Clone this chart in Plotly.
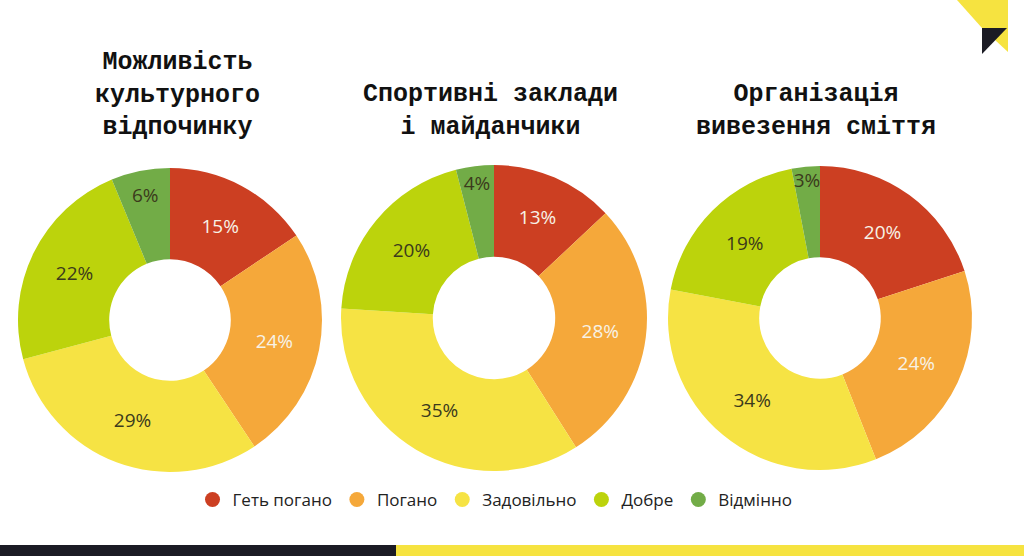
import plotly.graph_objects as go

categories = ["Геть погано", "Погано", "Задовільно", "Добре", "Відмінно"]
colors = ["#cc3f22", "#f5a83a", "#f6e344", "#bcd30c", "#72ac47"]
text_colors = ["#f7f2e6", "#f7f2e6", "#3b3a1c", "#3b3a1c", "#3b3a1c"]

titles = [
    ["Можливість", "культурного", "відпочинку"],
    ["Спортивні заклади", "і майданчики"],
    ["Організація", "вивезення сміття"],
]
values_culture = [15, 24, 29, 22, 6]
values_sport = [13, 28, 35, 20, 4]
values_waste = [20, 24, 34, 19, 3]
all_values = [values_culture, values_sport, values_waste]

W, H = 1024, 556
# pie geometry in pixels: (cx, cy, r)
geom = [(170, 320, 152), (494, 318, 153), (820, 318, 152)]
title_cx = [177, 490, 816]

fig = go.Figure()
for vals, (cx, cy, r) in zip(all_values, geom):
    fig.add_trace(go.Pie(
        values=vals,
        labels=categories,
        text=[f"{v}%" for v in vals],
        texttemplate="%{text}",
        textposition="inside",
        insidetextorientation="horizontal",
        sort=False,
        direction="clockwise",
        rotation=0,
        hole=0.4,
        marker=dict(colors=colors, line=dict(width=0)),
        textfont=dict(family="Open Sans", size=19, color=text_colors),
        showlegend=False,
        hoverinfo="label+text",
        domain=dict(x=[(cx - r) / W, (cx + r) / W], y=[1 - (cy + r) / H, 1 - (cy - r) / H]),
    ))

# legend entries with circle markers
for cat, col in zip(categories, colors):
    fig.add_trace(go.Scatter(
        x=[None], y=[None], mode="markers", name=cat,
        marker=dict(symbol="circle", size=15, color=col),
        showlegend=True,
    ))

# titles (one text block per chart, bottom lines aligned)
annotations = []
for lines, tx in zip(titles, title_cx):
    annotations.append(dict(
        x=tx / W, y=1 - 144 / H, xref="paper", yref="paper",
        text="<br>".join(f"<b>{ln}</b>" for ln in lines), showarrow=False,
        xanchor="center", yanchor="bottom", align="center",
        font=dict(family="Liberation Mono, Courier New, monospace", size=25, color="#111111"),
    ))

shapes = [
    # bottom bars
    dict(type="rect", xref="paper", yref="paper", x0=0, x1=396 / W, y0=0, y1=11 / H,
         fillcolor="#1b1b24", line=dict(width=0), layer="above"),
    dict(type="rect", xref="paper", yref="paper", x0=396 / W, x1=1, y0=0, y1=11 / H,
         fillcolor="#f6e340", line=dict(width=0), layer="above"),
    # top-right decoration
    dict(type="path", xref="paper", yref="paper",
         path=f"M {957/W},{1} L {1008/W},{1} L {1008/W},{1-52/H} L {982/W},{1-28/H} Z",
         fillcolor="#f6e340", line=dict(width=0)),
    dict(type="path", xref="paper", yref="paper",
         path=f"M {982/W},{1-28/H} L {1007/W},{1-28/H} L {982/W},{1-54/H} Z",
         fillcolor="#1b1b24", line=dict(width=0)),
]

fig.update_layout(
    width=W, height=H,
    margin=dict(l=0, r=0, t=0, b=0),
    paper_bgcolor="white", plot_bgcolor="white",
    xaxis=dict(visible=False), yaxis=dict(visible=False),
    annotations=annotations,
    shapes=shapes,
    uniformtext=dict(minsize=19, mode="show"),
    legend=dict(
        orientation="h", x=495 / W, y=1 - 500 / H, xanchor="center", yanchor="middle",
        font=dict(family="Open Sans", size=17, color="#222222"),
        itemwidth=30, tracegroupgap=0, bgcolor="rgba(0,0,0,0)",
    ),
)

fig.write_html("out.html", config={"displayModeBar": False},
               post_script="document.body.style.margin='0';")
